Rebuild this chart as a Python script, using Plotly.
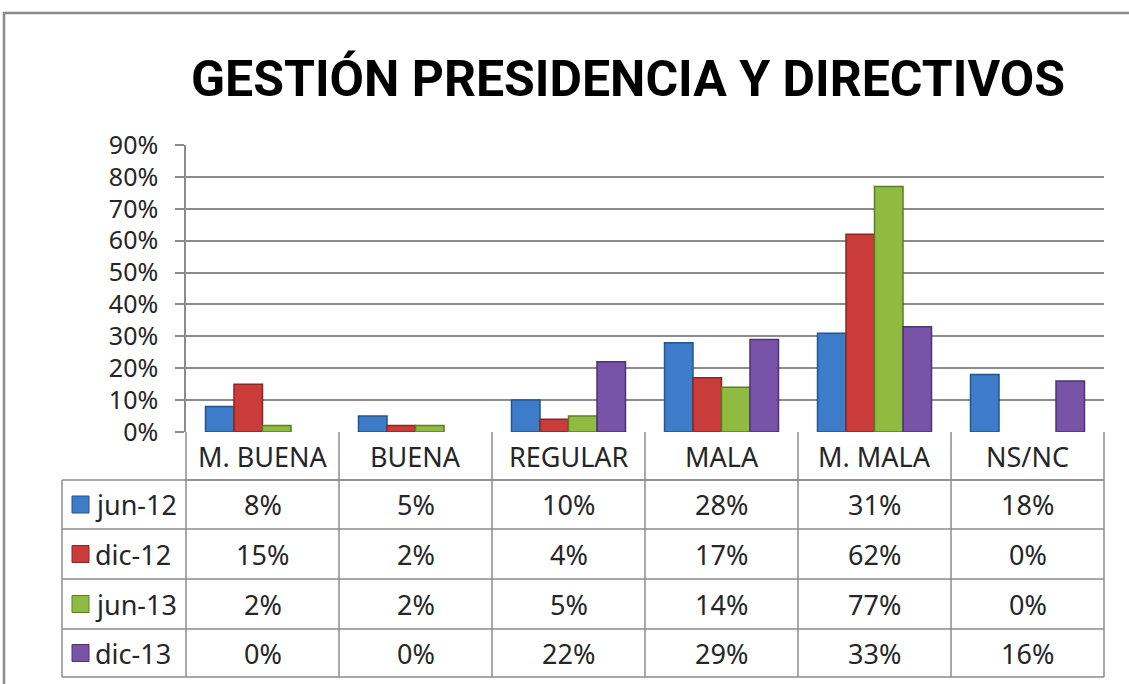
import plotly.graph_objects as go

categories = ["M. BUENA", "BUENA", "REGULAR", "MALA", "M. MALA", "NS/NC"]
series_names = ["jun-12", "dic-12", "jun-13", "dic-13"]
jun12 = [8, 5, 10, 28, 31, 18]
dic12 = [15, 2, 4, 17, 62, 0]
jun13 = [2, 2, 5, 14, 77, 0]
dic13 = [0, 0, 22, 29, 33, 16]
series_values = [jun12, dic12, jun13, dic13]
y_ticks = [0, 10, 20, 30, 40, 50, 60, 70, 80, 90]
title_text = "GESTIÓN PRESIDENCIA Y DIRECTIVOS"

colors = ["#3D7CC8", "#CA3C39", "#8FBC40", "#7853A8"]
edges = ["#24558F", "#8C2624", "#5C7C25", "#4C3373"]

W, H = 1129, 684
L, R, T, B = 186, 25, 145, 252
pw, ph = W - L - R, H - T - B

def px_x(px):
    return (px - L) / pw

def px_y(py):
    return (H - B - py) / ph

FONT = "Noto Sans, DejaVu Sans, sans-serif"
TXT = "#262626"
GRID = "#8C8C8C"
FS = 27

fig = go.Figure()
for name, vals, c, e in zip(series_names, series_values, colors, edges):
    fig.add_trace(go.Bar(
        x=categories, y=[v / 100 for v in vals], name=name,
        marker=dict(color=c, line=dict(color=e, width=[1.5 if v > 0 else 0 for v in vals])),
        showlegend=False, hoverinfo="skip",
    ))

shapes = []
annotations = []

header_top, header_bot = 432, 480
row_edges = [480, 529, 579, 629, 677]
table_left = 62

line = dict(color=GRID, width=1.5)
shapes.append(dict(type="line", xref="paper", yref="paper", x0=0, x1=1,
                   y0=px_y(header_bot), y1=px_y(header_bot), line=line))
for yy in row_edges:
    shapes.append(dict(type="line", xref="paper", yref="paper", x0=px_x(table_left), x1=1,
                       y0=px_y(yy), y1=px_y(yy), line=line))
for i in range(len(categories) + 1):
    xp = i / len(categories)
    shapes.append(dict(type="line", xref="paper", yref="paper", x0=xp, x1=xp,
                       y0=px_y(header_top), y1=px_y(row_edges[-1]), line=line))
shapes.append(dict(type="line", xref="paper", yref="paper", x0=px_x(table_left), x1=px_x(table_left),
                   y0=px_y(row_edges[0]), y1=px_y(row_edges[-1]), line=line))

for cat in categories:
    annotations.append(dict(x=cat, xref="x", yref="paper", y=px_y((header_top + header_bot) / 2),
                            text=cat, showarrow=False, xanchor="center", yanchor="middle",
                            font=dict(family=FONT, size=FS, color=TXT)))
for r, (name, vals, c, e) in enumerate(zip(series_names, series_values, colors, edges)):
    yc = (row_edges[r] + row_edges[r + 1]) / 2
    shapes.append(dict(type="rect", xref="paper", yref="paper",
                       x0=px_x(72), x1=px_x(89), y0=px_y(yc - 8.5), y1=px_y(yc + 8.5),
                       fillcolor=c, line=dict(color=e, width=1)))
    annotations.append(dict(x=px_x(93), xref="paper", yref="paper", y=px_y(yc), text=name,
                            showarrow=False, xanchor="left", yanchor="middle",
                            font=dict(family=FONT, size=FS, color=TXT)))
    for cat, v in zip(categories, vals):
        annotations.append(dict(x=cat, xref="x", yref="paper", y=px_y(yc), text=f"{v}%",
                                showarrow=False, xanchor="center", yanchor="middle",
                                font=dict(family=FONT, size=FS, color=TXT)))

shapes.append(dict(type="rect", xref="paper", yref="paper", x0=px_x(4), x1=px_x(W + 20),
                   y0=px_y(H + 20), y1=px_y(13), line=dict(color="#8A8A8A", width=2.5),
                   fillcolor="rgba(0,0,0,0)"))

fig.update_layout(
    width=W, height=H,
    margin=dict(l=L, r=R, t=T, b=B, pad=0),
    paper_bgcolor="white", plot_bgcolor="white",
    barmode="group", bargap=0.255, bargroupgap=0,
    title=dict(text=f"<b>{title_text}</b>", x=px_x(628), xref="paper", xanchor="center",
               y=1 - 78 / H, yref="container", yanchor="middle",
               font=dict(family="Roboto, Lato, sans-serif", size=50, color="#000000")),
    xaxis=dict(showticklabels=False, showgrid=False, zeroline=False, showline=False, ticks=""),
    yaxis=dict(range=[0, 0.9], tickvals=[t / 100 for t in y_ticks], ticktext=[f"{t}%" for t in y_ticks],
               showgrid=True, gridcolor=GRID, gridwidth=1.5, zeroline=False,
               showline=True, linecolor=GRID, linewidth=1.5,
               ticks="outside", ticklen=9, tickcolor=GRID, tickwidth=1.5,
               ticklabelstandoff=12,
               tickfont=dict(family=FONT, size=25, color=TXT)),
    shapes=shapes, annotations=annotations,
)

fig.write_html("out.html", config={"displayModeBar": False},
               post_script="document.body.style.margin='0';document.body.style.overflow='hidden';")
